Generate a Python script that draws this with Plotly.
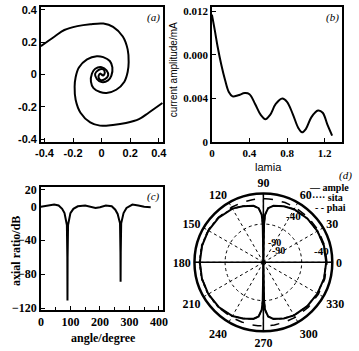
import plotly.graph_objects as go

# ---------------- data ----------------
# (a) two-arm spiral, arm 1 (arm 2 is its point reflection)
spiral_x = [-0.425, -0.329, -0.261, -0.170, -0.079, 0.012, 0.080, 0.148, 0.182, 0.189,
            0.182, 0.159, 0.102, 0.034, -0.011, -0.057, -0.075, -0.068, -0.045, 0.0,
            0.034, 0.046, 0.023, -0.007, -0.022, -0.011, 0.002]
spiral_y = [0.176, 0.236, 0.276, 0.300, 0.312, 0.316, 0.296, 0.236, 0.156, 0.076,
            0.016, -0.044, -0.094, -0.114, -0.108, -0.084, -0.044, 0.006, 0.036, 0.046,
            0.026, -0.004, -0.028, -0.034, -0.014, 0.006, -0.002]

# (b) current amplitude vs lamia
lamia = [0, 0.03, 0.06, 0.10, 0.14, 0.18, 0.22, 0.28, 0.35, 0.40, 0.46, 0.52, 0.57,
         0.62, 0.68, 0.75, 0.80, 0.86, 0.92, 0.96, 1.00, 1.06, 1.13, 1.18, 1.23, 1.28]
amplitude = [0.0117, 0.0103, 0.0088, 0.0071, 0.0057, 0.0046, 0.0042, 0.0043, 0.0045,
             0.0044, 0.0035, 0.0025, 0.0021, 0.0025, 0.0035, 0.0040, 0.0037, 0.0026,
             0.0013, 0.0009, 0.0012, 0.0023, 0.0029, 0.0027, 0.0016, 0.0006]
b_tickvals = [0, 0.004, 0.008, 0.012]
b_ticktext = ["0", "0.004", "0.000", "0.012"]

# (c) axial ratio vs angle
angle_c = [0, 20, 45, 60, 72, 80, 85, 88, 89.5, 90, 90.5, 92, 95, 100, 110, 125, 150,
           170, 185, 200, 220, 240, 252, 260, 265, 268, 269.5, 270, 270.5, 272, 275,
           280, 290, 310, 330, 350, 372]
axial_db = [-0.5, 0.5, 2, 1, -3, -8, -15, -22, -60, -111, -60, -22, -15, -8, -3, 0, 1,
            -1, -2, -1, 1, 0, -4, -9, -15, -20, -55, -89, -55, -20, -14, -8, -2, 2, 1,
            -0.5, -1]

# (d) radiation patterns (dB)
theta_d = [0, 15, 30, 45, 60, 70, 80, 85, 88, 89, 90, 91, 92, 95, 100, 110, 120, 135,
           150, 165, 180, 195, 210, 225, 240, 250, 260, 265, 268, 269, 270, 271, 272,
           275, 280, 290, 300, 315, 330, 345, 360]
ample = [-8, -8, -8.5, -9, -10, -12, -15, -19, -28, -40, -90, -40, -28, -19, -15, -12,
         -9, -7.5, -7, -7, -7, -7, -7, -7.5, -9, -12, -15, -19, -28, -40, -90, -40, -28,
         -19, -15, -12, -10, -9, -8.5, -8, -8]
sita = [-8, -8, -8.5, -9, -10, -12, -15, -19, -28, -40, -90, -40, -28, -19, -15, -12,
        -9, -7, -6.5, -6.5, -6.5, -6.5, -6.5, -7, -9, -12, -15, -19, -28, -40, -90, -40, -28,
        -19, -15, -12, -10, -9, -8.5, -8, -8]
phai = [-7] * len(theta_d)
ang_ticks = list(range(0, 360, 30))

BLACK = "black"
SERIF = "Liberation Serif"
SANS = "Liberation Sans"

fig = go.Figure()

# (a)
fig.add_trace(go.Scatter(x=spiral_x, y=spiral_y, mode="lines", line=dict(color=BLACK, width=2, shape="spline"),
                         xaxis="x", yaxis="y", showlegend=False))
fig.add_trace(go.Scatter(x=[-v for v in spiral_x], y=[-v for v in spiral_y], mode="lines",
                         line=dict(color=BLACK, width=2, shape="spline"),
                         xaxis="x", yaxis="y", showlegend=False))
# (b)
fig.add_trace(go.Scatter(x=lamia, y=amplitude, mode="lines", line=dict(color=BLACK, width=2, shape="spline"),
                         xaxis="x2", yaxis="y2", showlegend=False))
# (c)
fig.add_trace(go.Scatter(x=angle_c, y=axial_db, mode="lines", line=dict(color=BLACK, width=2),
                         xaxis="x3", yaxis="y3", showlegend=False))
# (d)
fig.add_trace(go.Scatterpolar(r=[0, -90, 0], theta=[0, 0, 180], mode="lines",
                              line=dict(color=BLACK, width=1.5), showlegend=False))
fig.add_trace(go.Scatterpolar(r=[0, -90, 0], theta=[90, 90, 270], mode="lines",
                              line=dict(color=BLACK, width=1.5), showlegend=False))
fig.add_trace(go.Scatterpolar(r=phai, theta=theta_d, mode="lines",
                              line=dict(color=BLACK, width=1.5, dash="dash"), showlegend=False))
fig.add_trace(go.Scatterpolar(r=sita, theta=theta_d, mode="lines",
                              line=dict(color=BLACK, width=1.5, dash="dot"), showlegend=False))
fig.add_trace(go.Scatterpolar(r=ample, theta=theta_d, mode="lines",
                              line=dict(color=BLACK, width=2), showlegend=False))

def frame(**kw):
    d = dict(showline=True, linecolor=BLACK, linewidth=1.5, mirror=True, showgrid=False,
             zeroline=False, ticks="inside", ticklen=4, tickcolor=BLACK, tickwidth=1)
    d.update(kw)
    return d

fig.update_layout(
    width=359, height=351, margin=dict(l=0, r=0, t=0, b=0),
    paper_bgcolor="white", plot_bgcolor="white",
    xaxis=frame(domain=[0.100, 0.451], anchor="y", range=[-0.425, 0.432],
                tickvals=[-0.4, -0.2, 0, 0.2, 0.4], ticktext=["-0.4", "-0.2", "0", "0.2", "0.4"],
                tickfont=dict(family=SANS, size=11, color=BLACK, weight="bold")),
    yaxis=frame(domain=[0.595, 0.991], anchor="x", range=[-0.418, 0.418],
                tickvals=[-0.4, -0.2, 0, 0.2, 0.4], ticktext=["-0.4", "-0.2", "0", "0.2", "0.4"],
                tickfont=dict(family=SANS, size=11, color=BLACK, weight="bold")),
    xaxis2=frame(domain=[0.590, 0.964], anchor="y2", range=[0, 1.39],
                 tickvals=[0, 0.4, 0.8, 1.2], ticktext=["0", "0.4", "0.8", "1.2"],
                 tickfont=dict(family=SERIF, size=11, color=BLACK, weight="bold")),
    yaxis2=frame(domain=[0.595, 0.991], anchor="x2", range=[0, 0.0124],
                 tickvals=b_tickvals, ticktext=b_ticktext,
                 tickfont=dict(family=SERIF, size=11, color=BLACK, weight="bold")),
    xaxis3=frame(domain=[0.100, 0.451], anchor="y3", range=[0, 415],
                 tickvals=[0, 100, 200, 300, 400],
                 minor=dict(tickvals=[50, 150, 250, 350], ticks="inside", ticklen=3, tickcolor=BLACK),
                 tickfont=dict(family=SERIF, size=12, color=BLACK, weight="bold")),
    yaxis3=frame(domain=[0.103, 0.464], anchor="x3", range=[-122, 23],
                 tickvals=[20, 0, -40, -80, -120],
                 tickfont=dict(family=SERIF, size=12, color=BLACK, weight="bold")),
    polar=dict(
        domain=dict(x=[0.540, 0.935], y=[0.040, 0.445]),
        bgcolor="white",
        radialaxis=dict(range=[-90, 0], tickvals=[-40], showticklabels=False, ticks="",
                        showline=False, gridcolor=BLACK, griddash="dot", gridwidth=1),
        angularaxis=dict(direction="counterclockwise", rotation=0, tickvals=ang_ticks,
                         ticks="", showline=True, linecolor=BLACK, linewidth=2.5,
                         gridcolor=BLACK, griddash="dot", gridwidth=1,
                         tickfont=dict(family=SERIF, size=12, color=BLACK, weight="bold")),
    ),
)

ann = [
    dict(text="(a)", x=0.446, y=0.985, xanchor="right", yanchor="top", font=dict(family=SERIF, size=11, style="italic")),
    dict(text="(b)", x=0.959, y=0.985, xanchor="right", yanchor="top", font=dict(family=SERIF, size=11, style="italic")),
    dict(text="(c)", x=0.446, y=0.460, xanchor="right", yanchor="top", font=dict(family=SERIF, size=11, style="italic")),
    dict(text="(d)", x=0.998, y=0.497, xanchor="right", yanchor="middle", font=dict(family=SERIF, size=11, style="italic")),
    dict(text="current amplitude/mA", x=0.479, y=0.806, textangle=-90, xanchor="center", yanchor="middle",
         font=dict(family=SANS, size=10)),
    dict(text="lamia", x=0.752, y=0.522, xanchor="center", yanchor="middle", font=dict(family=SANS, size=11)),
    dict(text="axial ratio/dB", x=0.028, y=0.275, textangle=-90, xanchor="center", yanchor="middle",
         font=dict(family=SERIF, size=12, weight="bold")),
    dict(text="angle/degree", x=0.278, y=0.020, xanchor="center", yanchor="middle",
         font=dict(family=SERIF, size=12, weight="bold")),
    dict(text="— ample", x=0.988, y=0.462, xanchor="right", yanchor="middle", font=dict(family=SERIF, size=10, weight="bold")),
    dict(text="···· sita", x=0.872, y=0.434, xanchor="left", yanchor="middle", font=dict(family=SERIF, size=10, weight="bold")),
    dict(text="- - phai", x=0.880, y=0.402, xanchor="left", yanchor="middle", font=dict(family=SERIF, size=10, weight="bold")),
    dict(text="-40", x=0.825, y=0.377, xanchor="center", yanchor="middle", font=dict(family=SERIF, size=11, weight="bold")),
    dict(text="-40", x=0.905, y=0.277, xanchor="center", yanchor="middle", font=dict(family=SERIF, size=11, weight="bold")),
    dict(text="-90", x=0.768, y=0.302, xanchor="center", yanchor="middle", font=dict(family=SERIF, size=10, weight="bold")),
    dict(text="-90", x=0.782, y=0.276, xanchor="center", yanchor="middle", font=dict(family=SERIF, size=10, weight="bold")),
]
for a in ann:
    a.update(xref="paper", yref="paper", showarrow=False)
    a["font"].setdefault("color", BLACK)
fig.update_layout(annotations=ann)

fig.write_html("out.html")
